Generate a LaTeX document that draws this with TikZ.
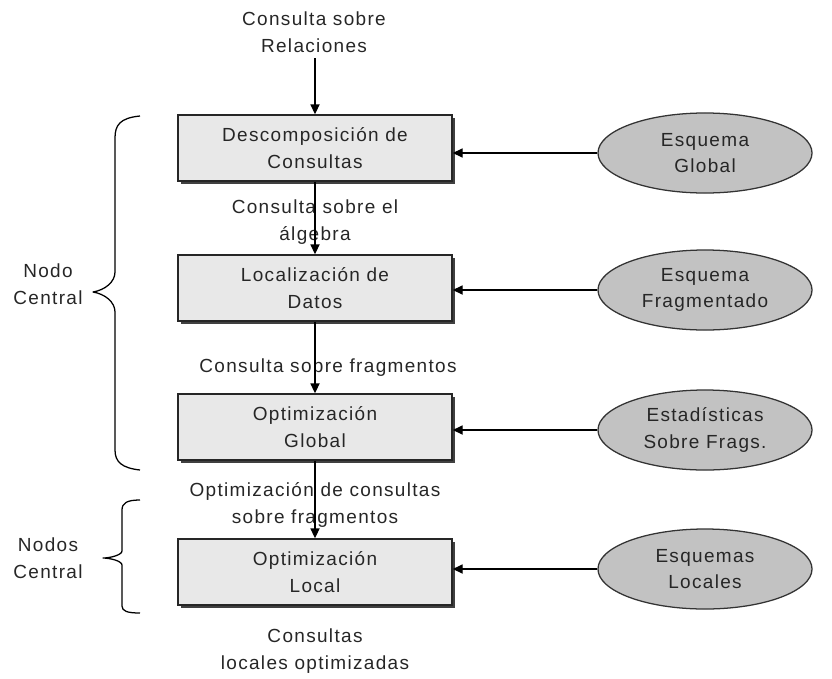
\documentclass[tikz,border=0pt]{standalone}
\usepackage{fontspec}
\setmainfont{Liberation Sans}[LetterSpace=7]
\usetikzlibrary{arrows.meta,shapes.geometric,shadows}

\tikzset{
  etapa/.style={draw=black!85, line width=1.1pt, fill=black!9, minimum width=6.85cm,
    minimum height=1.65cm, align=center,
    drop shadow={shadow xshift=2pt, shadow yshift=-2pt, fill=black!75, opacity=1}},
  esquema/.style={ellipse, draw=black!80, line width=0.9pt, fill=black!24,
    minimum width=5.35cm, minimum height=2cm, align=center},
  rotulo/.style={align=center},
  flecha/.style={-{Triangle[length=7pt,width=6.5pt]}, line width=0.9pt},
  llave/.style={line width=0.9pt, line join=round}
}

\begin{document}
\begin{tikzpicture}[x=0.025cm, y=-0.025cm, font=\fontsize{13.5}{19}\selectfont, text=black!85]
  \useasboundingbox (0,0) rectangle (832,678);

  % etapas
  \node[etapa] (descomp) at (315,148) {Descomposición de\\Consultas};
  \node[etapa] (local)   at (315,288) {Localización de\\Datos};
  \node[etapa] (optglob) at (315,427) {Optimización\\Global};
  \node[etapa] (optloc)  at (315,572) {Optimización\\Local};

  % esquemas
  \node[esquema] (global) at (705,153) {Esquema\\Global};
  \node[esquema] (frag)   at (705,290) {Esquema\\Fragmentado};
  \node[esquema] (estad)  at (705,430) {Estadísticas\\Sobre Frags.};
  \node[esquema] (locs)   at (705,569) {Esquemas\\Locales};

  % rotulos
  \node[rotulo] (rel)    at (314,32)  {Consulta sobre\\Relaciones};
  \node[rotulo] (alg)    at (315,222) {Consulta sobre el\\álgebra};
  \node[rotulo] (fragq)  at (328,368) {Consulta sobre fragmentos};
  \node[rotulo] (optq)   at (315,505) {Optimización de consultas\\sobre fragmentos};
  \node[rotulo] (salida) at (315,651) {Consultas\\locales optimizadas};
  \node[rotulo] (nodoc)  at (48,284)  {Nodo\\Central};
  \node[rotulo] (nodosc) at (48,558)  {Nodos\\Central};

  \coordinate (entrada) at (315,58);

  % flujo vertical
  \draw[flecha] (entrada) -- (descomp.north);
  \draw[flecha] (descomp.south) -- (local.north);
  \draw[flecha] (local.south) -- (optglob.north);
  \draw[flecha] (optglob.south) -- (optloc.north);

  % esquemas a etapas
  \draw[flecha] (global.west) -- (global.west -| descomp.east);
  \draw[flecha] (frag.west) -- (frag.west -| local.east);
  \draw[flecha] (estad.west) -- (estad.west -| optglob.east);
  \draw[flecha] (locs.west) -- (locs.west -| optloc.east);

  % llaves
  \draw[llave] (140,116) .. controls (120,118) and (115,125) .. (115,138)
    -- (115,272) .. controls (115,282) and (105,290) .. (93,292)
    .. controls (105,294) and (115,302) .. (115,312)
    -- (115,450) .. controls (115,462) and (122,468) .. (140,470);
  \draw[llave] (140,500) .. controls (127,500) and (122,503) .. (122,510)
    -- (122,551) .. controls (122,555) and (110,558) .. (103,558)
    .. controls (110,558) and (122,561) .. (122,565)
    -- (122,606) .. controls (122,611) and (127,613) .. (140,613);
\end{tikzpicture}
\end{document}
